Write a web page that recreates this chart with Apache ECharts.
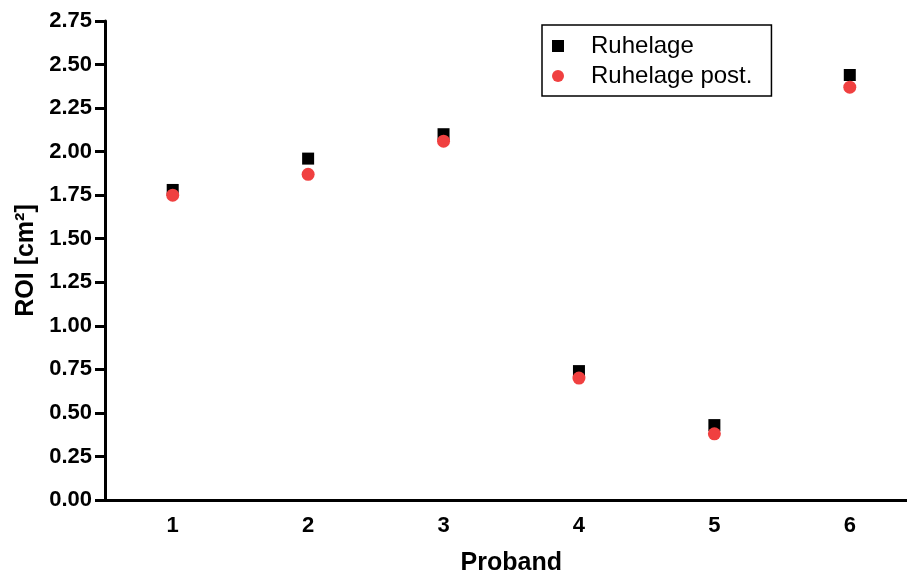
<!DOCTYPE html>
<html>
<head>
<meta charset="utf-8">
<script src="https://cdn.jsdelivr.net/npm/echarts@6/dist/echarts.min.js"></script>
<style>
  html, body { margin: 0; padding: 0; background: #fff; }
  #chart { width: 907px; height: 577px; }
</style>
</head>
<body>
<div id="chart"></div>
<script>
// Probanden und ROI-Werte
var probanden = ['1', '2', '3', '4', '5', '6'];
var ruhelage = [1.78, 1.96, 2.10, 0.74, 0.43, 2.44];
var ruhelagePost = [1.75, 1.87, 2.06, 0.70, 0.38, 2.37];

var font = 'Liberation Sans, Arial, sans-serif';

var myChart = echarts.init(document.getElementById('chart'));

var option = {
    backgroundColor: '#fff',
    animation: false,
    grid: { left: 105, right: -10.5, top: 21, bottom: 77, containLabel: false, outerBoundsMode: 'none' },
    legend: {
        orient: 'vertical',
        left: 542,
        top: 25,
        padding: [9, 19, 8, 10],
        borderColor: '#000',
        borderWidth: 1.5,
        itemWidth: 12,
        itemHeight: 12,
        itemGap: 6,
        textStyle: { fontFamily: font, fontSize: 24, color: '#000', padding: [0, 0, 0, 22] },
        data: ['Ruhelage', 'Ruhelage post.']
    },
    xAxis: {
        type: 'category',
        data: probanden,
        boundaryGap: true,
        name: 'Proband',
        nameLocation: 'middle',
        nameGap: 51,
        nameTextStyle: { fontFamily: font, fontSize: 25, fontWeight: 'bold', color: '#000' },
        axisLine: { lineStyle: { color: '#000', width: 3 } },
        axisTick: { alignWithLabel: true, length: 7, lineStyle: { color: '#000', width: 3 } },
        axisLabel: { margin: 15, fontFamily: font, fontSize: 22, fontWeight: 'bold', color: '#000' },
        splitLine: { show: false }
    },
    yAxis: {
        type: 'value',
        min: 0,
        max: 2.75,
        interval: 0.25,
        name: 'ROI [cm²]',
        nameLocation: 'middle',
        nameGap: 66,
        nameTextStyle: { fontFamily: font, fontSize: 25, fontWeight: 'bold', color: '#000' },
        axisLine: { show: true, lineStyle: { color: '#000', width: 3 } },
        axisTick: { show: true, length: 10, lineStyle: { color: '#000', width: 3 } },
        axisLabel: {
            margin: 13,
            fontFamily: font, fontSize: 22, fontWeight: 'bold', color: '#000',
            formatter: function (v) { return v.toFixed(2); }
        },
        splitLine: { show: false }
    },
    series: [
        {
            name: 'Ruhelage',
            type: 'scatter',
            symbol: 'rect',
            symbolSize: 12,
            itemStyle: { color: '#000', opacity: 1 },
            data: ruhelage
        },
        {
            name: 'Ruhelage post.',
            type: 'scatter',
            symbol: 'circle',
            symbolSize: 13,
            itemStyle: { color: '#f04040', opacity: 1 },
            data: ruhelagePost
        }
    ]
};

myChart.setOption(option);
</script>
</body>
</html>
